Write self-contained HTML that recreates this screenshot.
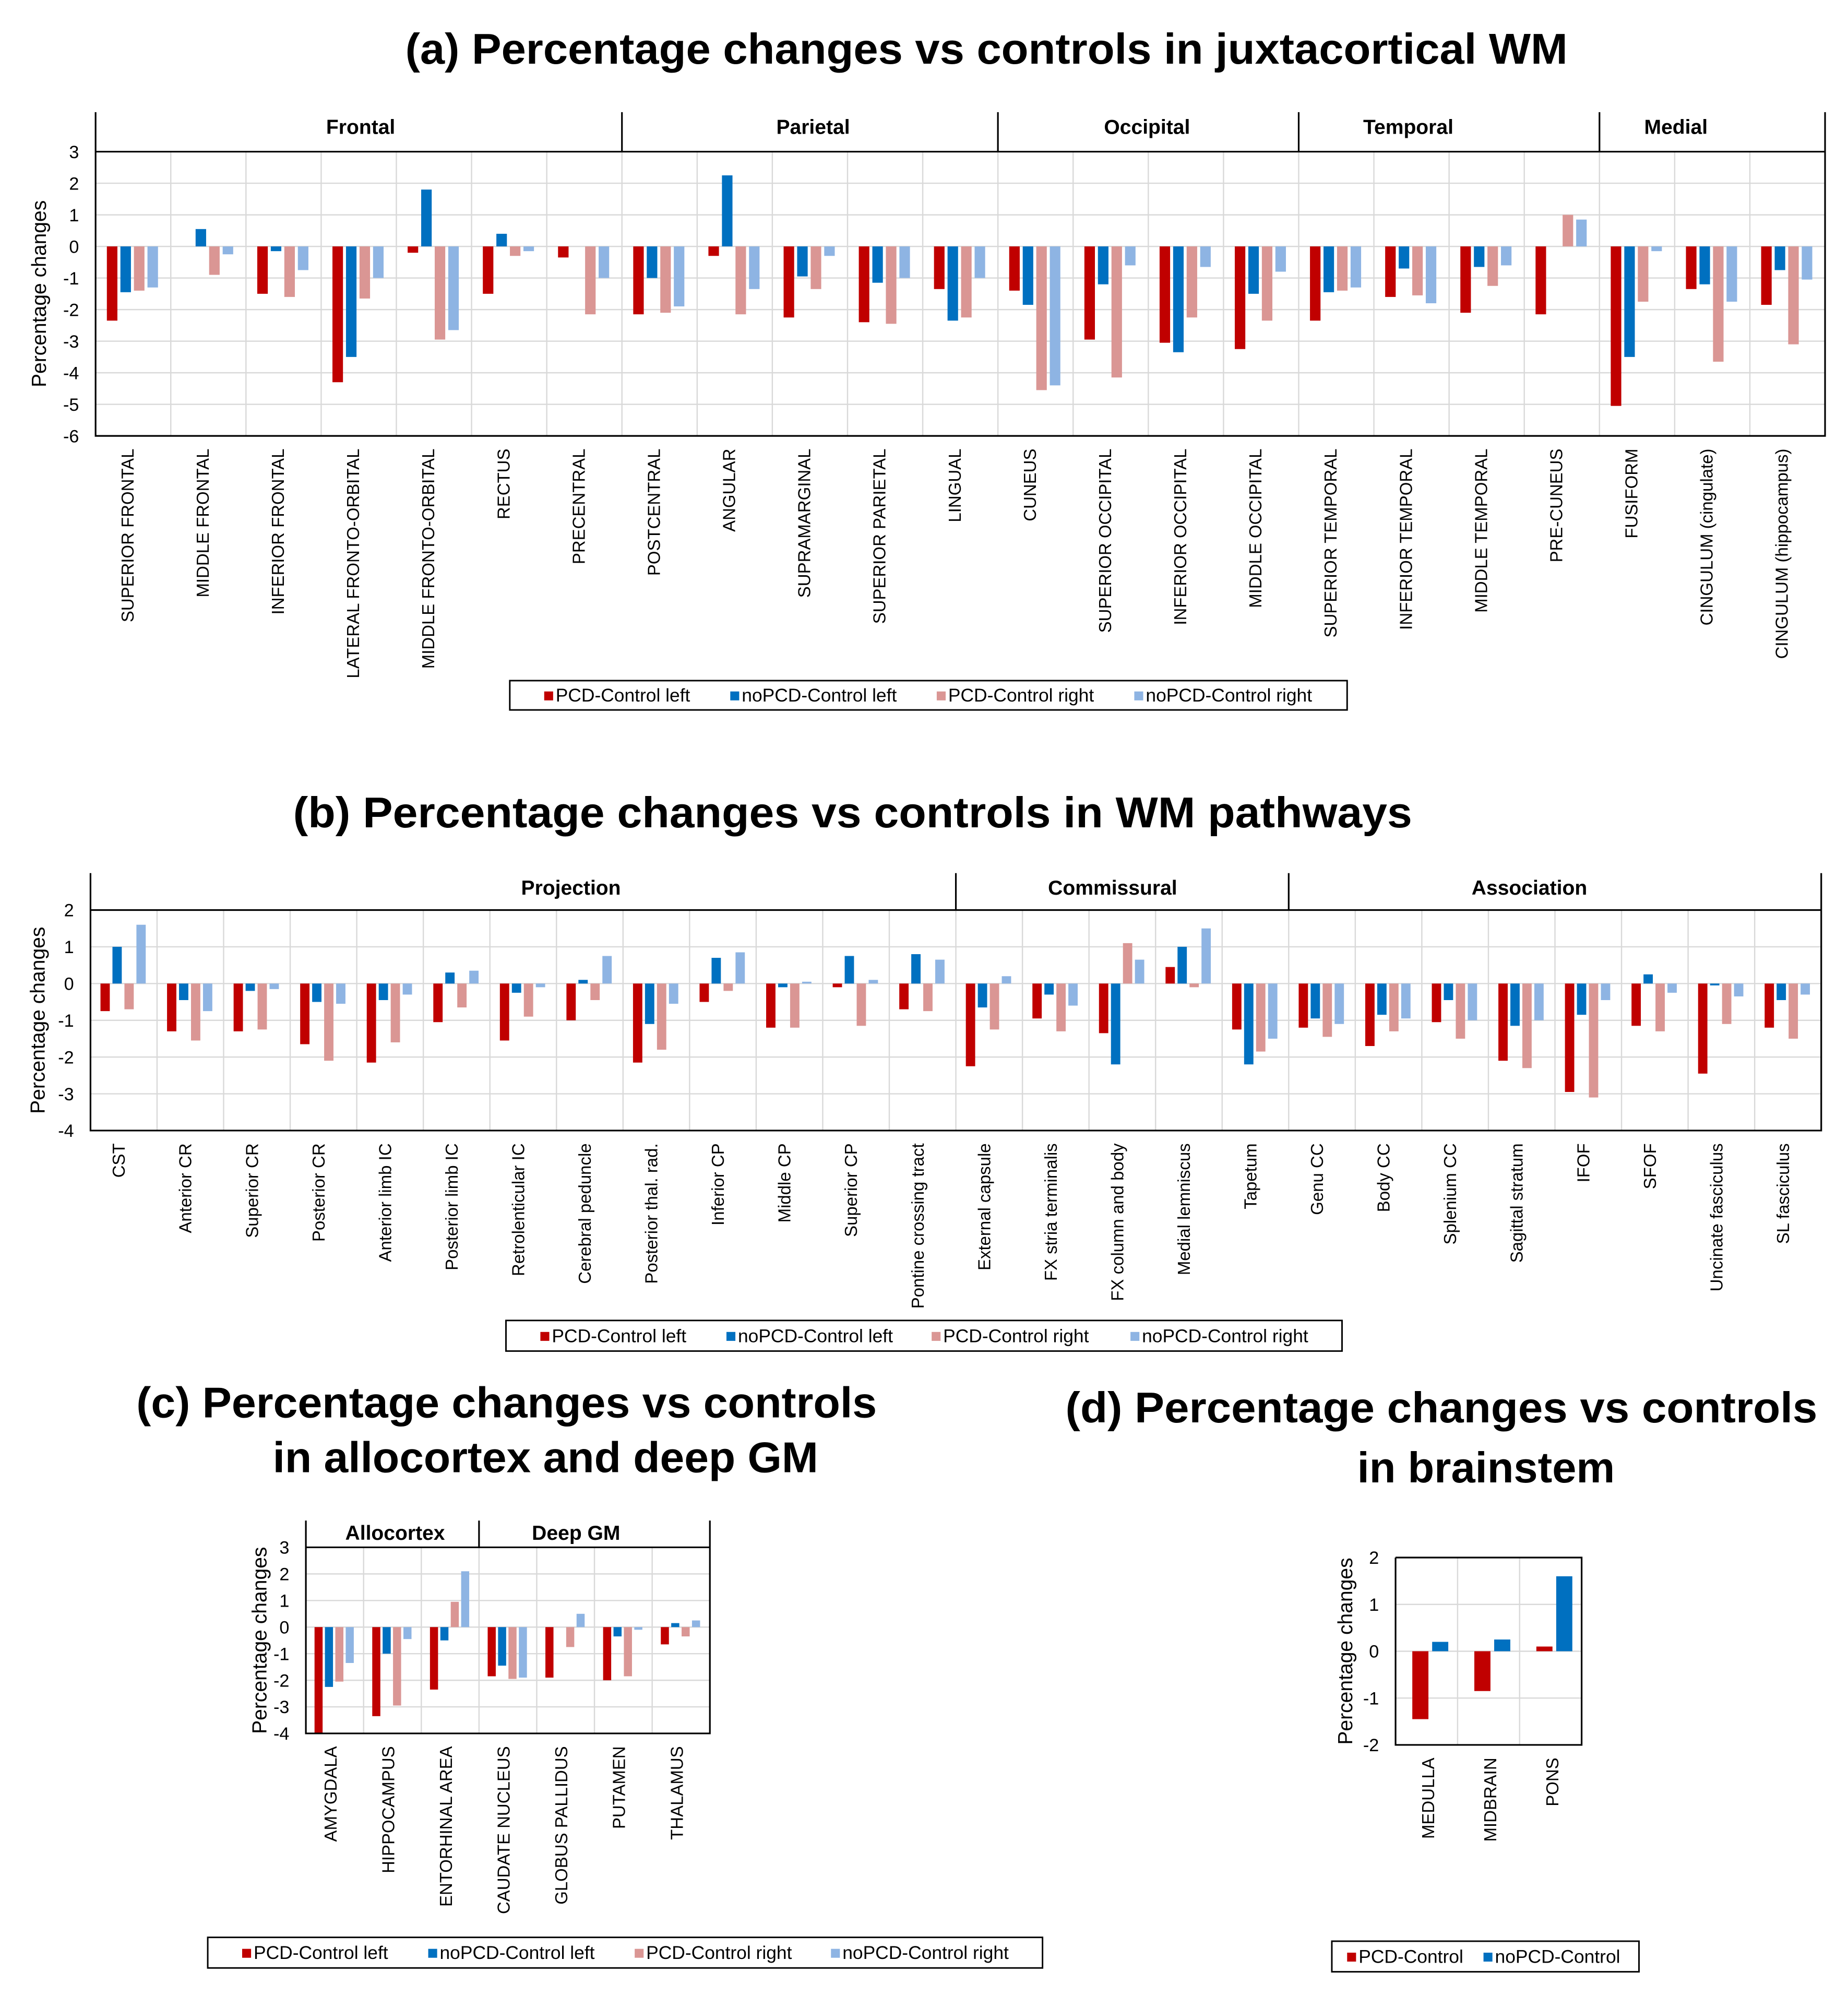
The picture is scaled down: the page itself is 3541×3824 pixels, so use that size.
<!DOCTYPE html>
<html><head><meta charset="utf-8"><style>
html,body{margin:0;padding:0;background:#fff}
svg{display:block}
text{font-family:"Liberation Sans",sans-serif}
</style></head><body>
<svg id="root" xmlns="http://www.w3.org/2000/svg" width="3541" height="3824" viewBox="0 0 1450 1566" preserveAspectRatio="none">
<rect width="1450" height="1566" fill="#fff"/>
<text x="774" y="50" text-anchor="middle" font-size="34" font-weight="bold" textLength="912" lengthAdjust="spacingAndGlyphs">(a) Percentage changes vs controls in juxtacortical WM</text>
<text x="230" y="649" font-size="34" font-weight="bold" textLength="878" lengthAdjust="spacingAndGlyphs">(b)  Percentage changes vs controls in  WM pathways</text>
<text x="107" y="1112" font-size="34" font-weight="bold" textLength="581" lengthAdjust="spacingAndGlyphs">(c) Percentage changes vs controls</text>
<text x="214" y="1155" font-size="34" font-weight="bold" textLength="428" lengthAdjust="spacingAndGlyphs">in allocortex and deep GM</text>
<text x="836" y="1116" font-size="34" font-weight="bold" textLength="590" lengthAdjust="spacingAndGlyphs">(d) Percentage changes vs controls</text>
<text x="1166" y="1163" text-anchor="middle" font-size="34" font-weight="bold">in brainstem</text>
<g id="charts"></g>
</svg>
<script>
// ---- Panel (a) data ----
const aCats = ["SUPERIOR FRONTAL","MIDDLE FRONTAL","INFERIOR FRONTAL","LATERAL FRONTO-ORBITAL","MIDDLE FRONTO-ORBITAL","RECTUS","PRECENTRAL","POSTCENTRAL","ANGULAR","SUPRAMARGINAL","SUPERIOR PARIETAL","LINGUAL","CUNEUS","SUPERIOR OCCIPITAL","INFERIOR OCCIPITAL","MIDDLE OCCIPITAL","SUPERIOR TEMPORAL","INFERIOR TEMPORAL","MIDDLE TEMPORAL","PRE-CUNEUS","FUSIFORM","CINGULUM (cingulate)","CINGULUM (hippocampus)"];
const aPcdL = [-2.35,0,-1.5,-4.3,-0.2,-1.5,-0.35,-2.15,-0.3,-2.25,-2.4,-1.35,-1.4,-2.95,-3.05,-3.25,-2.35,-1.6,-2.1,-2.15,-5.05,-1.35,-1.85];
const aNoL = [-1.45,0.55,-0.15,-3.5,1.8,0.4,0,-1.0,2.25,-0.95,-1.15,-2.35,-1.85,-1.2,-3.35,-1.5,-1.45,-0.7,-0.65,0,-3.5,-1.2,-0.75];
const aPcdR = [-1.4,-0.9,-1.6,-1.65,-2.95,-0.3,-2.15,-2.1,-2.15,-1.35,-2.45,-2.25,-4.55,-4.15,-2.25,-2.35,-1.4,-1.55,-1.25,1.0,-1.75,-3.65,-3.1];
const aNoR = [-1.3,-0.25,-0.75,-1.0,-2.65,-0.15,-1.0,-1.9,-1.35,-0.3,-1.0,-1.0,-4.4,-0.6,-0.65,-0.8,-1.3,-1.8,-0.6,0.85,-0.15,-1.75,-1.05];
const aTicks = [3,2,1,0,-1,-2,-3,-4,-5,-6];
const aGroups = ["Frontal","Parietal","Occipital","Temporal","Medial"];
const aGroupSizes = [7,5,4,4,3];
// ---- Panel (b) data ----
const bCats = ["CST","Anterior CR","Superior CR","Posterior CR","Anterior limb IC","Posterior limb IC","Retrolenticular IC","Cerebral peduncle","Posterior thal. rad.","Inferior CP","Middle CP","Superior CP","Pontine crossing tract","External capsule","FX stria terminalis","FX column and body","Medial lemniscus","Tapetum","Genu CC","Body CC","Splenium CC","Sagittal stratum","IFOF","SFOF","Uncinate fasciculus","SL fasciculus"];
const bPcdL = [-0.75,-1.3,-1.3,-1.65,-2.15,-1.05,-1.55,-1.0,-2.15,-0.5,-1.2,-0.1,-0.7,-2.25,-0.95,-1.35,0.45,-1.25,-1.2,-1.7,-1.05,-2.1,-2.95,-1.15,-2.45,-1.2];
const bNoL = [1.0,-0.45,-0.2,-0.5,-0.45,0.3,-0.25,0.1,-1.1,0.7,-0.1,0.75,0.8,-0.65,-0.3,-2.2,1.0,-2.2,-0.95,-0.85,-0.45,-1.15,-0.85,0.25,-0.05,-0.45];
const bPcdR = [-0.7,-1.55,-1.25,-2.1,-1.6,-0.65,-0.9,-0.45,-1.8,-0.2,-1.2,-1.15,-0.75,-1.25,-1.3,1.1,-0.1,-1.85,-1.45,-1.3,-1.5,-2.3,-3.1,-1.3,-1.1,-1.5];
const bNoR = [1.6,-0.75,-0.15,-0.55,-0.3,0.35,-0.1,0.75,-0.55,0.85,0.05,0.1,0.65,0.2,-0.6,0.65,1.5,-1.5,-1.1,-0.95,-1.0,-1.0,-0.45,-0.25,-0.35,-0.3];
const bTicks = [2,1,0,-1,-2,-3,-4];
const bGroups = ["Projection","Commissural","Association"];
const bGroupSizes = [13,5,8];
// ---- Panel (c) data ----
const cCats = ["AMYGDALA","HIPPOCAMPUS","ENTORHINAL AREA","CAUDATE NUCLEUS","GLOBUS PALLIDUS","PUTAMEN","THALAMUS"];
const cPcdL = [-4.0,-3.35,-2.35,-1.85,-1.9,-2.0,-0.65];
const cNoL = [-2.25,-1.0,-0.5,-1.45,0,-0.35,0.15];
const cPcdR = [-2.05,-2.95,0.95,-1.95,-0.75,-1.85,-0.35];
const cNoR = [-1.35,-0.45,2.1,-1.9,0.5,-0.1,0.25];
const cTicks = [3,2,1,0,-1,-2,-3,-4];
const cGroups = ["Allocortex","Deep GM"];
const cGroupSizes = [3,4];
// ---- Panel (d) data ----
const dCats = ["MEDULLA","MIDBRAIN","PONS"];
const dPcd = [-1.45,-0.85,0.1];
const dNo = [0.2,0.25,1.6];
const dTicks = [2,1,0,-1,-2];

const NS = "http://www.w3.org/2000/svg";
const root = document.getElementById('charts');
const COLORS = ["#c00000","#0070c0","#da9694","#8eb4e3"];
function mk(tag, attrs, parent){ const e=document.createElementNS(NS,tag); for(const k in attrs) e.setAttribute(k,attrs[k]); (parent||root).appendChild(e); return e; }

function drawPanel(p){
  const g = mk('g',{});
  
  
  const n = p.cats.length, cw = (p.x1-p.x0)/n;
  const yy = v => p.y0 + (p.vmax - v)*(p.y1-p.y0)/(p.vmax-p.vmin);
  p.ticks.forEach(t=>{
    const l = mk('line',{x1:p.x0,x2:p.x1,y1:yy(t),y2:yy(t),stroke:'#d9d9d9','stroke-width':1},g);
    
    
    const tx = mk('text',{x:p.x0-13,y:yy(t)+5,'text-anchor':'end','font-size':p.tickSize},g);
    tx.textContent = t;
    
    
  });
  for(let i=1;i<n;i++){
    const l = mk('line',{x1:p.x0+i*cw,x2:p.x0+i*cw,y1:p.y0,y2:p.y1,stroke:'#d9d9d9','stroke-width':1},g);
    
    
  }
  const ns = p.series.length;
  const start = ns===4?0.15:0.27, step = ns===4?0.18:0.32, bw = ns===4?0.14:0.26;
  p.series.forEach((s,si)=>{
    s.forEach((v,ci)=>{
      const bx = p.x0 + ci*cw + cw*(start + si*step);
      const top = Math.min(yy(0),yy(v)), h = Math.abs(yy(v)-yy(0));
      const r = mk('rect',{x:bx,y:top,width:cw*bw,height:h,fill:p.colors[si]},g);
      
      
    });
  });
  const fr = mk('path',{d:`M${p.x0},${p.hy!=null?p.hy:p.y0}V${p.y1}H${p.x1}V${p.hy!=null?p.hy:p.y0}`+(p.hy==null?`H${p.x0}`:''),fill:'none',stroke:'#000','stroke-width':1.3},g);
  
  
  if(p.groups){
    const hl = mk('line',{x1:p.x0,x2:p.x1,y1:p.y0,y2:p.y0,stroke:'#000','stroke-width':1.3},g);
    
    
    let c=0;
    p.groups.forEach((gn,gi)=>{
      const gx0 = p.x0 + c*cw; c += p.groupSizes[gi];
      if(gi>0){ const d = mk('line',{x1:gx0,x2:gx0,y1:p.hy,y2:p.y0,stroke:'#000','stroke-width':1.3},g);
        
         }
      const t = mk('text',{x:p.groupX[gi],y:p.groupY,'text-anchor':'middle','font-size':p.groupSize,'font-weight':'bold'},g);
      t.textContent = gn;
      
      
    });
  }
  p.cats.forEach((cn,ci)=>{
    const cx = p.x0 + ci*cw + cw*p.labelOff;
    const ly = p.y1 + 10;
    const t = mk('text',{x:0,y:0,'text-anchor':'end','font-size':p.catSize,transform:`translate(${cx+5},${ly}) rotate(-90)`},g);
    t.textContent = cn;
    
    
  });
  const yt = mk('text',{x:0,y:0,'text-anchor':'middle','font-size':p.ytSize,transform:`translate(${p.ytx},${(p.y0+p.y1)/2}) rotate(-90)`},g);
  yt.textContent = 'Percentage changes';
  
  
  const L = p.legend;
  const lb = mk('rect',{x:L.x0,y:L.y0,width:L.x1-L.x0,height:L.y1-L.y0,fill:'#fff',stroke:'#000','stroke-width':1.2},g);
  
  
  L.items.forEach((it,ii)=>{
    const m = mk('rect',{x:L.xs[ii],y:(L.y0+L.y1)/2-3,width:7,height:7,fill:p.colors[ii]},g);
    
    
    const t = mk('text',{x:L.xs[ii]+9,y:(L.y0+L.y1)/2+5,'font-size':14.5},g);
    t.textContent = it;
    
    
  });
}
const names4 = ["pcd-left","nopcd-left","pcd-right","nopcd-right"];
const leg4 = ["PCD-Control left","noPCD-Control left","PCD-Control right","noPCD-Control right"];
drawPanel({name:'chart-a',cats:aCats,series:[aPcdL,aNoL,aPcdR,aNoR],seriesNames:names4,colors:COLORS,
  x0:75,x1:1432,hy:88,y0:119,y1:342,vmax:3,vmin:-6,ticks:aTicks,groups:aGroups,groupSizes:aGroupSizes,
  groupX:[283,638,900,1105,1315],groupY:105,
  tickSize:14,groupSize:16,catSize:13.5,labelOff:0.42,ytSize:16,ytx:36,
  legend:{x0:400,x1:1057,y0:534,y1:557,items:leg4,xs:[427,573,735,890]}});
drawPanel({name:'chart-b',cats:bCats,series:[bPcdL,bNoL,bPcdR,bNoR],seriesNames:names4,colors:COLORS,
  x0:71,x1:1429,hy:685,y0:714,y1:887,vmax:2,vmin:-4,ticks:bTicks,groups:bGroups,groupSizes:bGroupSizes,
  groupX:[448,873,1200],groupY:702,
  tickSize:14,groupSize:16,catSize:13.5,labelOff:0.42,ytSize:16,ytx:35,
  legend:{x0:397,x1:1053,y0:1036,y1:1060,items:leg4,xs:[424,570,731,887]}});
drawPanel({name:'chart-c',cats:cCats,series:[cPcdL,cNoL,cPcdR,cNoR],seriesNames:names4,colors:COLORS,
  x0:240,x1:557,hy:1193,y0:1214,y1:1360,vmax:3,vmin:-4,ticks:cTicks,groups:cGroups,groupSizes:cGroupSizes,
  groupX:[310,452],groupY:1208,
  tickSize:14,groupSize:16,catSize:13.5,labelOff:0.42,ytSize:16,ytx:209,
  legend:{x0:163,x1:818,y0:1520,y1:1544,items:leg4,xs:[190,336,498,652]}});
drawPanel({name:'chart-d',cats:dCats,series:[dPcd,dNo],seriesNames:["pcd","nopcd"],colors:[COLORS[0],COLORS[1]],
  x0:1095,x1:1241,hy:null,y0:1222,y1:1369,vmax:2,vmin:-2,ticks:dTicks,groups:null,
  tickSize:14,groupSize:16,catSize:13.5,labelOff:0.52,ytSize:16,ytx:1061,
  legend:{x0:1045,x1:1286,y0:1523,y1:1547,items:["PCD-Control","noPCD-Control"],xs:[1057,1164]}});
</script>
</body></html>
